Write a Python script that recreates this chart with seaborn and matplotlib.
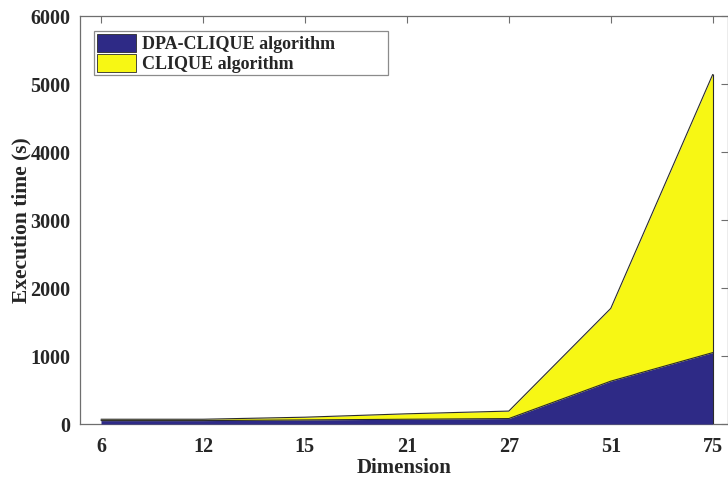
import matplotlib
matplotlib.use("Agg")
import matplotlib.pyplot as plt
import seaborn as sns
import numpy as np
import pandas as pd
from matplotlib.patches import Patch

# Execution time per data dimension
dimensions = ["6", "12", "15", "21", "27", "51", "75"]
dpa_clique = [50, 50, 60, 70, 80, 630, 1050]          # DPA-CLIQUE (s)
clique_total = [70, 70, 100, 150, 190, 1700, 5140]     # stacked top of CLIQUE (s)
y_ticks = [0, 1000, 2000, 3000, 4000, 5000, 6000]

blue = "#2E2A86"
yellow = "#F7F714"
edge = "#2b2b2b"

sns.set_theme(style="white")
plt.rcParams["font.family"] = ["Liberation Serif", "DejaVu Serif"]
plt.rcParams["font.weight"] = "bold"

fig = plt.figure(figsize=(7.28, 4.79), dpi=100)
ax = fig.add_axes([80 / 728, 55 / 479, 648 / 728, 408 / 479])

pos = np.arange(len(dimensions))
df = pd.DataFrame({"pos": pos, "dpa": dpa_clique, "total": clique_total})

ax.fill_between(df["pos"], df["dpa"], df["total"], color=yellow, linewidth=0, zorder=2)
ax.fill_between(df["pos"], 0, df["dpa"], color=blue, linewidth=0, zorder=3)
sns.lineplot(data=df, x="pos", y="total", ax=ax, color=edge, linewidth=0.8, zorder=4)
sns.lineplot(data=df, x="pos", y="dpa", ax=ax, color=edge, linewidth=0.8, zorder=4)
ax.vlines([pos[-1]], 0, clique_total[-1], color=edge, linewidth=0.8, zorder=4)

ax.set_xlim(-0.206, 6.15)
ax.set_ylim(0, 6000)
ax.set_xticks(pos)
ax.set_xticklabels(dimensions)
ax.set_yticks(y_ticks)
ax.set_yticklabels([str(v) for v in y_ticks])

for s in ax.spines.values():
    s.set_color("#6e6e6e")
    s.set_linewidth(0.9)

ax.tick_params(axis="both", direction="in", length=5, width=0.8, color="#6e6e6e",
               top=True, right=True, labelsize=14.5, labelcolor="#262626")
ax.tick_params(axis="x", pad=9)
ax.tick_params(axis="y", pad=7)
for lab in ax.get_xticklabels() + ax.get_yticklabels():
    lab.set_fontweight("bold")

ax.set_xlabel("Dimension", fontsize=15, fontweight="bold", color="#262626", labelpad=1)
ax.set_ylabel("Execution time (s)", fontsize=15.5, fontweight="bold", color="#262626", labelpad=-1)

handles = [Patch(facecolor=blue, edgecolor=edge, linewidth=0.6, label="DPA-CLIQUE algorithm"),
           Patch(facecolor=yellow, edgecolor=edge, linewidth=0.6, label="CLIQUE algorithm")]
leg = ax.legend(handles=handles, loc="upper left",
                bbox_to_anchor=(14 / 648, 1 - 15 / 408, 294 / 648, 0), mode="expand",
                frameon=True, fancybox=False, borderaxespad=0, prop={"weight": "bold", "size": 13},
                handlelength=2.2, handleheight=1.15, handletextpad=0.3, labelspacing=0.05,
                borderpad=0.15)
leg.get_frame().set_edgecolor("#6e6e6e")
leg.get_frame().set_linewidth(0.9)

fig.savefig("out.png", dpi=100)
